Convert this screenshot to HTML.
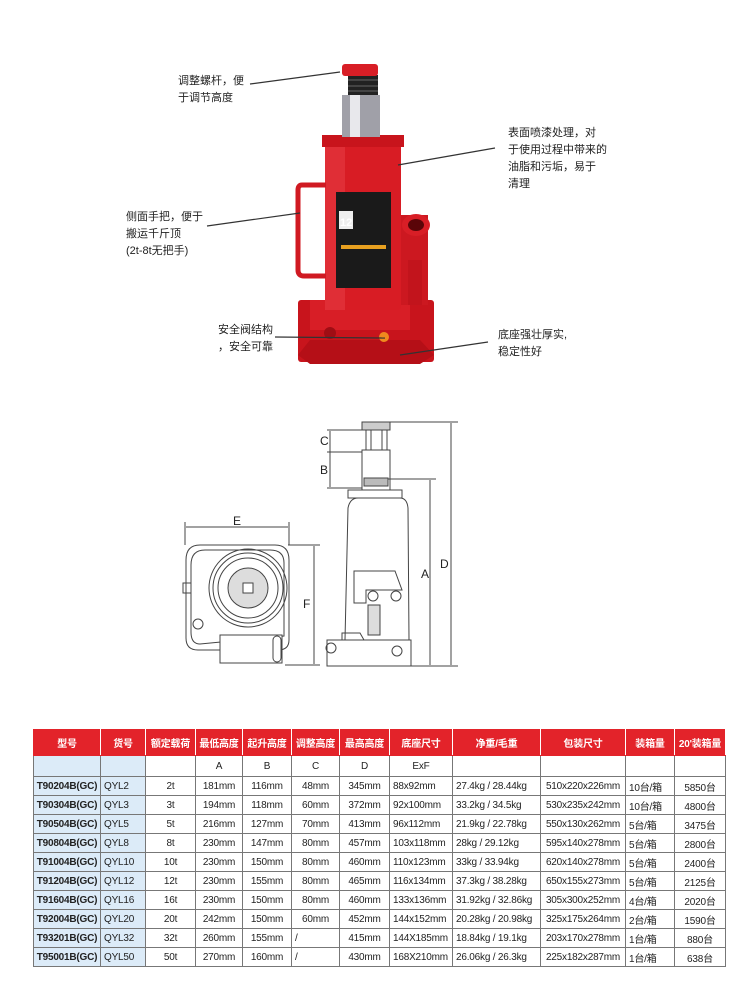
<!DOCTYPE html>
<html><head><meta charset="utf-8"><style>
body{margin:0;background:#fff;width:750px;height:1000px;position:relative;overflow:hidden;font-family:"Liberation Sans","Noto Sans CJK SC",sans-serif}
.t{position:absolute;font-size:11px;line-height:17px;color:#222;white-space:nowrap}
table{position:absolute;left:33px;top:729px;border-collapse:collapse;table-layout:fixed;font-family:"Liberation Sans","Noto Sans CJK SC",sans-serif;font-size:10px;color:#222;letter-spacing:-0.2px}
td{border:1px solid #777;text-align:center;height:18px;padding:0;white-space:nowrap;overflow:hidden}
tr.h td{background:#e3232a;color:#fff;height:25px;font-weight:bold;border-color:#e3232a;border-right-color:#fff}
tr.l td{height:20px}
td.b{background:#dcebf8;font-weight:bold}
td.c{background:#dcebf8;text-align:left;padding-left:3px}
td.lft{text-align:left;padding-left:3px}
</style></head><body>
<svg width="750" height="720" style="position:absolute;left:0;top:0">
<g>
<rect x="298" y="300" width="136" height="62" fill="#c8141c" rx="3"/>
<polygon points="298,355 310,340 420,340 434,355 420,364 310,364" fill="#b50f17"/>
<rect x="310" y="300" width="100" height="30" fill="#d81e26"/>
<circle cx="330" cy="333" r="6" fill="#a00d14"/><circle cx="384" cy="337" r="5" fill="#f08a1e"/>
<rect x="400" y="215" width="28" height="90" fill="#cc1820"/>
<ellipse cx="416" cy="225" rx="14" ry="11" fill="#d81e26"/><ellipse cx="416" cy="225" rx="8" ry="6" fill="#5a0508"/>
<rect x="408" y="260" width="14" height="45" fill="#c2141c"/>
<rect x="325" y="135" width="76" height="175" fill="#d81c24" rx="4"/>
<rect x="325" y="135" width="20" height="175" fill="#e84048" opacity=".5"/>
<rect x="322" y="135" width="82" height="12" fill="#c8141c"/>
<path d="M326,185 L302,185 Q298,185 298,190 L298,270 Q298,276 304,276 L326,276" fill="none" stroke="#d01a22" stroke-width="5"/>
<rect x="336" y="192" width="55" height="96" fill="#1a1a1a"/>
<rect x="339" y="211" width="14" height="18" fill="#eee"/>
<text x="340" y="226" font-size="11" font-weight="bold" fill="#fff" font-family="Liberation Sans">12</text>
<rect x="341" y="245" width="45" height="4" fill="#e8a020"/>
<rect x="342" y="95" width="38" height="42" fill="#a0a0a8"/>
<rect x="350" y="95" width="10" height="42" fill="#e8e8ec"/>
<rect x="348" y="75" width="30" height="20" fill="#222"/>
<line x1="348" y1="80" x2="378" y2="80" stroke="#666"/><line x1="348" y1="86" x2="378" y2="86" stroke="#666"/><line x1="348" y1="91" x2="378" y2="91" stroke="#666"/>
<rect x="342" y="64" width="36" height="12" fill="#d81e26" rx="3"/>
</g>
<g stroke="#333" stroke-width="1.2" fill="none">
<line x1="250" y1="84" x2="340" y2="72"/>
<line x1="398" y1="165" x2="495" y2="148"/>
<line x1="207" y1="226" x2="300" y2="213"/>
<line x1="275" y1="337" x2="385" y2="338"/>
<line x1="488" y1="342" x2="400" y2="355"/>
</g>
<g stroke="#444" stroke-width="1" fill="none">
<path d="M200,545 L275,545 Q289,545 289,560 L289,640 Q289,650 278,650 L198,650 Q186,650 186,638 L186,560 Q186,545 200,545Z"/>
<path d="M205,550 L270,550 Q284,550 284,563 L284,636 L200,644 Q191,644 191,632 L191,565 Q191,550 205,550Z"/>
<circle cx="248" cy="588" r="39"/><circle cx="248" cy="588" r="35"/><circle cx="248" cy="588" r="30"/>
<circle cx="248" cy="588" r="20" fill="#ddd"/>
<rect x="243" y="583" width="10" height="10" fill="#fff"/>
<rect x="220" y="635" width="62" height="28" fill="#fff"/>
<rect x="273" y="636" width="8" height="26" rx="4"/>
<rect x="183" y="583" width="8" height="10"/>
<circle cx="198" cy="624" r="5"/>
<line x1="185" y1="522" x2="185" y2="545"/><line x1="289" y1="522" x2="289" y2="545"/>
<line x1="186" y1="527" x2="288" y2="527"/>
<line x1="288" y1="545" x2="320" y2="545"/><line x1="285" y1="665" x2="320" y2="665"/>
<line x1="314" y1="546" x2="314" y2="664"/>
<rect x="327" y="640" width="84" height="26"/>
<path d="M345,640 L348,508 Q350,498 358,498 L400,498 Q407,498 408,508 L409,640"/>
<rect x="348" y="490" width="54" height="8"/>
<rect x="362" y="450" width="28" height="40"/>
<rect x="364" y="478" width="24" height="8" fill="#bbb"/>
<rect x="366" y="430" width="21" height="20"/>
<line x1="371" y1="430" x2="371" y2="450"/><line x1="382" y1="430" x2="382" y2="450"/>
<rect x="362" y="422" width="28" height="8" fill="#ccc"/>
<path d="M354,571 L395,571 L402,590 L366,590 L366,603 L354,603Z"/>
<circle cx="373" cy="596" r="5"/><circle cx="396" cy="596" r="5"/>
<rect x="368" y="605" width="12" height="30" fill="#ddd"/>
<path d="M342,640 L342,633 L360,633 L364,640"/>
<circle cx="397" cy="651" r="5"/>
<circle cx="331" cy="648" r="5"/>
<line x1="388" y1="422" x2="458" y2="422"/><line x1="388" y1="479" x2="436" y2="479"/>
<line x1="411" y1="666" x2="458" y2="666"/>
<line x1="451" y1="423" x2="451" y2="665"/><line x1="430" y1="480" x2="430" y2="665"/>
<line x1="327" y1="430" x2="366" y2="430"/><line x1="327" y1="452" x2="362" y2="452"/><line x1="327" y1="488" x2="362" y2="488"/>
<line x1="330" y1="431" x2="330" y2="487"/>
</g>
<g font-family="Liberation Sans" font-size="12" fill="#222">
<text x="233" y="525">E</text><text x="303" y="608">F</text>
<text x="320" y="445">C</text><text x="320" y="474">B</text>
<text x="421" y="578">A</text><text x="440" y="568">D</text>
</g>
</svg>
<div class="t" style="left:178px;top:73px">调整螺杆，便<br>于调节高度</div>
<div class="t" style="left:508px;top:125px">表面喷漆处理，对<br>于使用过程中带来的<br>油脂和污垢，易于<br>清理</div>
<div class="t" style="left:126px;top:209px">侧面手把，便于<br>搬运千斤顶<br>(2t-8t无把手)</div>
<div class="t" style="left:218px;top:322px">安全阀结构<br>，安全可靠</div>
<div class="t" style="left:498px;top:327px">底座强壮厚实,<br>稳定性好</div>
<table>
<colgroup><col style="width:67px"><col style="width:45px"><col style="width:50px"><col style="width:47px"><col style="width:49px"><col style="width:48px"><col style="width:50px"><col style="width:63px"><col style="width:88px"><col style="width:85px"><col style="width:49px"><col style="width:51px"></colgroup>
<tr class="h"><td>型号</td><td>货号</td><td>额定载荷</td><td>最低高度</td><td>起升高度</td><td>调整高度</td><td>最高高度</td><td>底座尺寸</td><td>净重/毛重</td><td>包装尺寸</td><td>装箱量</td><td>20'装箱量</td></tr>
<tr class="l"><td class="b"></td><td class="c"></td><td></td><td>A</td><td>B</td><td>C</td><td>D</td><td>ExF</td><td></td><td></td><td></td><td></td></tr>
<tr><td class="b">T90204B(GC)</td><td class="c">QYL2</td><td>2t</td><td>181mm</td><td>116mm</td><td>48mm</td><td>345mm</td><td class="lft">88x92mm</td><td class="lft">27.4kg / 28.44kg</td><td>510x220x226mm</td><td class="lft">10台/箱</td><td>5850台</td></tr>
<tr><td class="b">T90304B(GC)</td><td class="c">QYL3</td><td>3t</td><td>194mm</td><td>118mm</td><td>60mm</td><td>372mm</td><td class="lft">92x100mm</td><td class="lft">33.2kg / 34.5kg</td><td>530x235x242mm</td><td class="lft">10台/箱</td><td>4800台</td></tr>
<tr><td class="b">T90504B(GC)</td><td class="c">QYL5</td><td>5t</td><td>216mm</td><td>127mm</td><td>70mm</td><td>413mm</td><td class="lft">96x112mm</td><td class="lft">21.9kg / 22.78kg</td><td>550x130x262mm</td><td class="lft">5台/箱</td><td>3475台</td></tr>
<tr><td class="b">T90804B(GC)</td><td class="c">QYL8</td><td>8t</td><td>230mm</td><td>147mm</td><td>80mm</td><td>457mm</td><td class="lft">103x118mm</td><td class="lft">28kg / 29.12kg</td><td>595x140x278mm</td><td class="lft">5台/箱</td><td>2800台</td></tr>
<tr><td class="b">T91004B(GC)</td><td class="c">QYL10</td><td>10t</td><td>230mm</td><td>150mm</td><td>80mm</td><td>460mm</td><td class="lft">110x123mm</td><td class="lft">33kg / 33.94kg</td><td>620x140x278mm</td><td class="lft">5台/箱</td><td>2400台</td></tr>
<tr><td class="b">T91204B(GC)</td><td class="c">QYL12</td><td>12t</td><td>230mm</td><td>155mm</td><td>80mm</td><td>465mm</td><td class="lft">116x134mm</td><td class="lft">37.3kg / 38.28kg</td><td>650x155x273mm</td><td class="lft">5台/箱</td><td>2125台</td></tr>
<tr><td class="b">T91604B(GC)</td><td class="c">QYL16</td><td>16t</td><td>230mm</td><td>150mm</td><td>80mm</td><td>460mm</td><td class="lft">133x136mm</td><td class="lft">31.92kg / 32.86kg</td><td>305x300x252mm</td><td class="lft">4台/箱</td><td>2020台</td></tr>
<tr><td class="b">T92004B(GC)</td><td class="c">QYL20</td><td>20t</td><td>242mm</td><td>150mm</td><td>60mm</td><td>452mm</td><td class="lft">144x152mm</td><td class="lft">20.28kg / 20.98kg</td><td>325x175x264mm</td><td class="lft">2台/箱</td><td>1590台</td></tr>
<tr><td class="b">T93201B(GC)</td><td class="c">QYL32</td><td>32t</td><td>260mm</td><td>155mm</td><td class="lft">/</td><td>415mm</td><td class="lft">144X185mm</td><td class="lft">18.84kg / 19.1kg</td><td>203x170x278mm</td><td class="lft">1台/箱</td><td>880台</td></tr>
<tr><td class="b">T95001B(GC)</td><td class="c">QYL50</td><td>50t</td><td>270mm</td><td>160mm</td><td class="lft">/</td><td>430mm</td><td class="lft">168X210mm</td><td class="lft">26.06kg / 26.3kg</td><td>225x182x287mm</td><td class="lft">1台/箱</td><td>638台</td></tr>
</table>
</body></html>
